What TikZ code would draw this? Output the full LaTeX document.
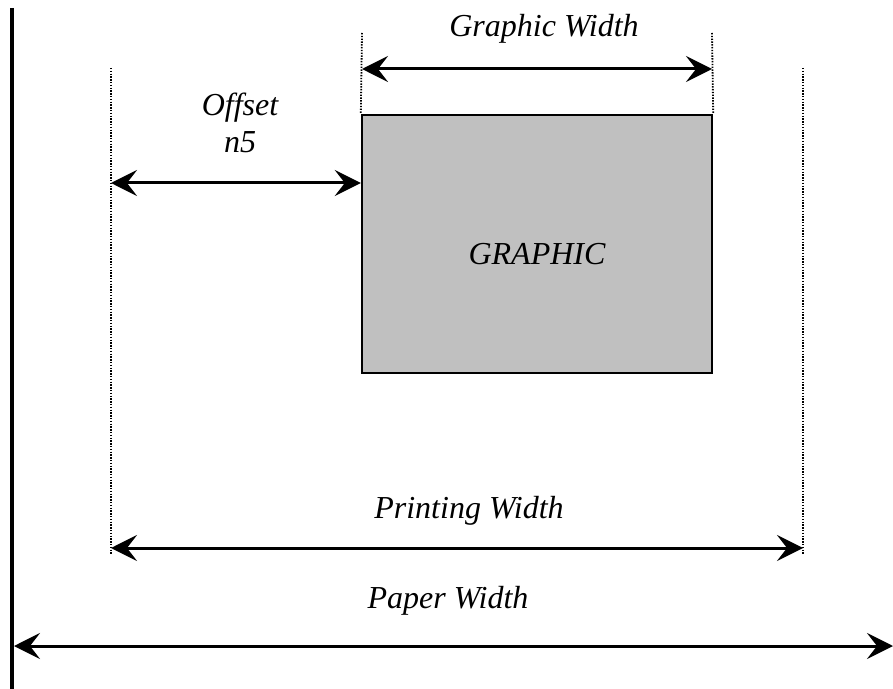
\documentclass[tikz,border=0pt]{standalone}
\usepackage{fontspec}
\setmainfont{Liberation Serif}
\usetikzlibrary{arrows.meta}
\definecolor{graphicgray}{HTML}{C0C0C0}
\tikzset{
    dimline/.style={{Stealth[length=13pt,width=13pt,inset=5pt]}-{Stealth[length=13pt,width=13pt,inset=5pt]}, line width=1.5pt},
    guide/.style={line width=0.9pt, dash pattern=on 0.7pt off 0.7pt},
    dimlabel/.style={font=\fontsize{16}{18.5}\selectfont\itshape, anchor=base, inner sep=0pt}
}
\begin{document}
\begin{tikzpicture}[x=0.5pt, y=-0.5pt]
    \useasboundingbox (0,0) rectangle (893,689);

    % Draw the paper edge
    \coordinate (edgetop) at (12, 8);
    \coordinate (edgebot) at (12, 689);
    \draw[line width=2pt] (edgetop) -- (edgebot);

    % Draw the graphic
    \node[draw, rectangle, line width=1.2pt, fill=graphicgray, minimum width=175pt, minimum height=129pt] (graphic) at (537, 244) {};
    \node[dimlabel] (graphictext) at (537, 265) {GRAPHIC};

    % Draw the guide lines
    \coordinate (gleft) at (362, 33);
    \coordinate (gright) at (712, 33);
    \coordinate (pleft) at (111, 68);
    \coordinate (pright) at (803, 68);
    \coordinate (pleftbot) at (111, 555);
    \coordinate (prightbot) at (803, 555);
    \draw[guide] (gleft) -- (graphic.north west);
    \draw[guide] (gright) -- (graphic.north east);
    \draw[guide] (pleft) -- (pleftbot);
    \draw[guide] (pright) -- (prightbot);

    % Draw the dimensions
    \coordinate (gwa) at (362, 69);
    \coordinate (gwb) at (712, 69);
    \coordinate (offa) at (111, 183);
    \coordinate (pwa) at (111, 548);
    \coordinate (pwb) at (803, 548);
    \coordinate (papa) at (14, 646);
    \coordinate (papb) at (893, 646);
    \draw[dimline] (gwa) -- (gwb);
    \draw[dimline] (offa) -- (graphic.west |- offa);
    \draw[dimline] (pwa) -- (pwb);
    \draw[dimline] (papa) -- (papb);

    % Add labels
    \node[dimlabel] (gwlabel) at (544, 37) {Graphic Width};
    \node[dimlabel, align=center] (offlabel) at (240, 153) {Offset\\n5};
    \node[dimlabel] (pwlabel) at (469, 518) {Printing Width};
    \node[dimlabel] (paplabel) at (448, 608) {Paper Width};

\end{tikzpicture}
\end{document}
